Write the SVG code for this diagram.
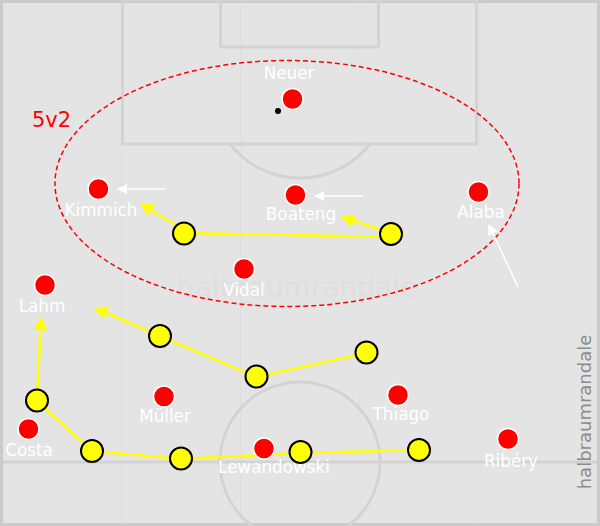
<svg xmlns="http://www.w3.org/2000/svg" width="600" height="526" viewBox="0 0 600 526">
<defs>
<style>
.pitch{fill:none;stroke:#d3d3d3;stroke-width:3}
.stripe{stroke:#dddddd;stroke-width:1}
.red{fill:#ff0000;stroke:#ffffff;stroke-width:1.5}
.yel{fill:#ffff00;stroke:#000000;stroke-width:2}
.lbl{font-family:"DejaVu Sans",sans-serif;font-size:16.8px;fill:#ffffff;text-anchor:middle}
.yline{fill:none;stroke:#ffff00;stroke-width:2.5}
.warrow{stroke:#ffffff;stroke-width:1.5;fill:none}
</style>
<marker id="ya" viewBox="0 0 10 10" refX="9" refY="5" markerWidth="5.5" markerHeight="5.5" orient="auto" markerUnits="strokeWidth">
<path d="M0,0 L10,5 L0,10 z" fill="#ffff00"/>
</marker>
<marker id="wa" viewBox="0 0 10 10" refX="9" refY="5" markerWidth="7" markerHeight="7" orient="auto" markerUnits="strokeWidth">
<path d="M0,0 L10,5 L0,10 z" fill="#ffffff"/>
</marker>
</defs>
<g id="pitch">
<rect x="0" y="0" width="600" height="526" fill="#e4e4e4"/>
<line class="stripe" x1="122" y1="0" x2="122" y2="526"/>
<line class="stripe" x1="241" y1="0" x2="241" y2="526"/>
<line class="stripe" x1="360" y1="0" x2="360" y2="526"/>
<line class="stripe" x1="480" y1="0" x2="480" y2="526"/>
<rect x="1.5" y="1.5" width="597" height="523" fill="none" stroke="#cbcbcb" stroke-width="3"/>
<rect class="pitch" x="122.5" y="0" width="354" height="144"/>
<rect class="pitch" x="220.5" y="0" width="158" height="47"/>
<path class="pitch" d="M230,144 A89,89 0 0 0 370,144"/>
<line class="pitch" x1="3" y1="462" x2="597" y2="462"/>
<circle class="pitch" cx="300" cy="462" r="80"/>
<text x="297" y="297" font-family="DejaVu Sans,sans-serif" font-size="28" fill="#dfdfdf" text-anchor="middle">halbraumrandale</text>
</g>
<ellipse id="zone" cx="287" cy="183.5" rx="232" ry="123" fill="none" stroke="#ff0000" stroke-width="1.5" stroke-dasharray="5,3"/>
<text id="label-5v2" x="32" y="127" font-family="DejaVu Sans,sans-serif" font-size="21" fill="#ff0000">5v2</text>
<g id="connectors">
<line class="yline" x1="184" y1="233" x2="391" y2="237"/>
<line class="yline" x1="176" y1="225" x2="141" y2="204" marker-end="url(#ya)"/>
<line class="yline" x1="381" y1="230" x2="342" y2="217" marker-end="url(#ya)"/>
<line class="yline" x1="160" y1="336" x2="95" y2="308" marker-end="url(#ya)"/>
<polyline class="yline" points="160,336 256,377 367,353"/>
<line class="yline" x1="37" y1="401" x2="41" y2="318" marker-end="url(#ya)"/>
<polyline class="yline" points="37,401 92,451 181,459 300,453 419,450"/>
<line class="warrow" x1="165" y1="189" x2="118" y2="189" marker-end="url(#wa)"/>
<line class="warrow" x1="363" y1="196" x2="315" y2="196" marker-end="url(#wa)"/>
<line class="warrow" x1="518" y1="287" x2="489" y2="225" marker-end="url(#wa)"/>
</g>
<g id="ball"><circle cx="278" cy="111" r="3" fill="#000000"/></g>
<g id="neuer"><circle class="red" cx="292.5" cy="99" r="10.5"/><text class="lbl" x="289" y="79">Neuer</text></g>
<g id="kimmich"><circle class="red" cx="98.5" cy="189" r="10.5"/><text class="lbl" x="101" y="216">Kimmich</text></g>
<g id="boateng"><circle class="red" cx="295.5" cy="195" r="10.5"/><text class="lbl" x="301" y="220">Boateng</text></g>
<g id="alaba"><circle class="red" cx="478.5" cy="192" r="10.5"/><text class="lbl" x="481" y="218">Alaba</text></g>
<g id="vidal"><circle class="red" cx="244" cy="269" r="10.5"/><text class="lbl" x="244" y="296">Vidal</text></g>
<g id="lahm"><circle class="red" cx="45" cy="285" r="10.5"/><text class="lbl" x="42" y="312">Lahm</text></g>
<g id="mueller"><circle class="red" cx="164" cy="396.5" r="10.5"/><text class="lbl" x="165" y="422">Müller</text></g>
<g id="thiago"><circle class="red" cx="398" cy="395" r="10.5"/><text class="lbl" x="401" y="420">Thiago</text></g>
<g id="costa"><circle class="red" cx="28.5" cy="429" r="10.5"/><text class="lbl" x="29" y="456">Costa</text></g>
<g id="ribery"><circle class="red" cx="508" cy="439" r="10.5"/><text class="lbl" x="511" y="467">Ribéry</text></g>
<g id="opp1"><circle class="yel" cx="184" cy="233.5" r="11"/></g>
<g id="opp2"><circle class="yel" cx="391" cy="234" r="11"/></g>
<g id="opp3"><circle class="yel" cx="160" cy="336" r="11"/></g>
<g id="opp4"><circle class="yel" cx="256.5" cy="376.5" r="11"/></g>
<g id="opp5"><circle class="yel" cx="366.5" cy="352.5" r="11"/></g>
<g id="opp6"><circle class="yel" cx="37" cy="400.5" r="11"/></g>
<g id="opp7"><circle class="yel" cx="92" cy="451" r="11"/></g>
<g id="opp8"><circle class="yel" cx="181" cy="458.5" r="11"/></g>
<g id="lewandowski"><circle class="red" cx="264" cy="448.5" r="10.5"/><text class="lbl" x="274" y="473">Lewandowski</text></g>
<g id="opp9"><circle class="yel" cx="300.5" cy="452" r="11"/></g>
<g id="opp10"><circle class="yel" cx="419" cy="450" r="11"/></g>
<text id="side-label" transform="translate(591,412) rotate(-90)" font-family="DejaVu Sans,sans-serif" font-size="18" fill="#8c8c8c" text-anchor="middle">halbraumrandale</text>
</svg>
